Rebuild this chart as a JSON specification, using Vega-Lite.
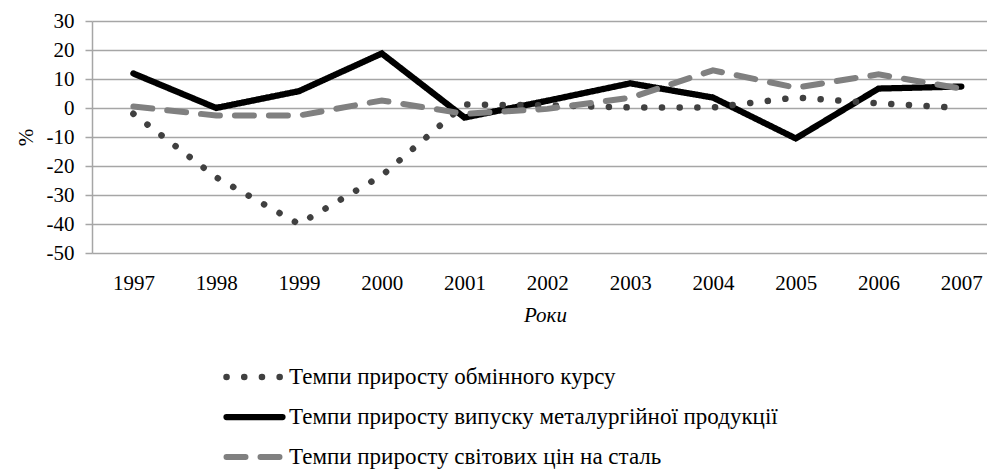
{
  "$schema": "https://vega.github.io/schema/vega-lite/v6.json",
  "width": 895,
  "height": 232,
  "autosize": "none",
  "padding": {"left": 92, "top": 21, "right": 0, "bottom": 217},
  "background": "white",
  "config": {
    "font": "Liberation Serif",
    "view": {"stroke": null},
    "axis": {"labelFont": "Liberation Serif", "titleFont": "Liberation Serif", "labelColor": "#000000", "titleColor": "#000000", "labelFontWeight": "normal", "titleFontWeight": "normal"},
    "legend": {"labelFont": "Liberation Serif"}
  },
  "data": {
    "values": [
      {"year": 1997, "s": "B", "v": 11.9}, {"year": 1998, "s": "B", "v": 0}, {"year": 1999, "s": "B", "v": 5.8}, {"year": 2000, "s": "B", "v": 18.8}, {"year": 2001, "s": "B", "v": -3.3}, {"year": 2002, "s": "B", "v": 2.5}, {"year": 2003, "s": "B", "v": 8.5}, {"year": 2004, "s": "B", "v": 3.6}, {"year": 2005, "s": "B", "v": -10.5}, {"year": 2006, "s": "B", "v": 6.7}, {"year": 2007, "s": "B", "v": 7.4},
      {"year": 1997, "s": "A", "v": -2}, {"year": 1998, "s": "A", "v": -23.9}, {"year": 1999, "s": "A", "v": -40}, {"year": 2000, "s": "A", "v": -23.3}, {"year": 2001, "s": "A", "v": 1.2}, {"year": 2002, "s": "A", "v": 0.9}, {"year": 2003, "s": "A", "v": 0.2}, {"year": 2004, "s": "A", "v": 0.2}, {"year": 2005, "s": "A", "v": 3.6}, {"year": 2006, "s": "A", "v": 1.6}, {"year": 2007, "s": "A", "v": 0},
      {"year": 1997, "s": "C", "v": 0.5}, {"year": 1998, "s": "C", "v": -2.6}, {"year": 1999, "s": "C", "v": -2.6}, {"year": 2000, "s": "C", "v": 2.6}, {"year": 2001, "s": "C", "v": -2}, {"year": 2002, "s": "C", "v": -0.3}, {"year": 2003, "s": "C", "v": 3.5}, {"year": 2004, "s": "C", "v": 13}, {"year": 2005, "s": "C", "v": 7}, {"year": 2006, "s": "C", "v": 11.6}, {"year": 2007, "s": "C", "v": 6.7}
    ]
  },
  "transform": [
    {"lookup": "s", "from": {"data": {"values": [
      {"s": "A", "series": "Темпи приросту обмінного курсу"},
      {"s": "B", "series": "Темпи приросту випуску металургійної продукції"},
      {"s": "C", "series": "Темпи приросту світових цін на сталь"}
    ]}, "key": "s", "fields": ["series"]}}
  ],
  "mark": {"type": "line", "strokeCap": "round", "strokeJoin": "miter", "clip": true},
  "encoding": {
    "x": {
      "field": "year", "type": "quantitative",
      "scale": {"domain": [1996.5, 2007.31], "nice": false, "zero": false},
      "axis": {"values": [1997, 1998, 1999, 2000, 2001, 2002, 2003, 2004, 2005, 2006, 2007], "labelExpr": "'' + datum.value", "grid": false, "ticks": false, "domain": false, "labelFontSize": 21, "labelPadding": 19, "labelFlush": false, "title": "Роки", "titleFontSize": 21, "titleFontStyle": "italic", "titlePadding": 11, "titleX": 453}
    },
    "y": {
      "field": "v", "type": "quantitative",
      "scale": {"domain": [-50, 30], "nice": false},
      "axis": {"values": [-50, -40, -30, -20, -10, 0, 10, 20, 30], "labelExpr": "'' + datum.value", "grid": true, "gridColor": "#a6a6a6", "gridWidth": 1.5, "domainColor": "#a6a6a6", "domainWidth": 1.5, "tickColor": "#a6a6a6", "tickWidth": 1.5, "tickSize": 7, "labelFontSize": 21, "labelPadding": 11, "title": "%", "titleFontSize": 21, "titleAngle": -90, "titlePadding": 10}
    },
    "color": {
      "field": "series", "type": "nominal",
      "scale": {"domain": ["Темпи приросту обмінного курсу", "Темпи приросту випуску металургійної продукції", "Темпи приросту світових цін на сталь"], "range": ["#404040", "#000000", "#808080"]},
      "legend": {
        "title": null, "orient": "none", "legendX": 131, "legendY": 345, "direction": "vertical",
        "symbolType": "stroke", "symbolSize": 3136, "symbolStrokeWidth": 8, "clipHeight": 22,
        "labelFontSize": 23, "labelColor": "#000000", "labelOffset": 3, "rowPadding": 17, "padding": 0, "labelLimit": 800,
        "encode": {"symbols": {"update": {"strokeWidth": {"value": 8}, "strokeCap": {"value": "round"}, "opacity": {"value": 1}}}}
      }
    },
    "strokeDash": {
      "field": "series", "type": "nominal",
      "scale": {"domain": ["Темпи приросту обмінного курсу", "Темпи приросту випуску металургійної продукції", "Темпи приросту світових цін на сталь"], "range": [[0.1, 17.6], [1, 0], [19, 15]]},
      "legend": null
    },
    "strokeWidth": {
      "field": "series", "type": "nominal",
      "scale": {"domain": ["Темпи приросту обмінного курсу", "Темпи приросту випуску металургійної продукції", "Темпи приросту світових цін на сталь"], "range": [6.5, 6, 6]},
      "legend": null
    },
    "order": {"field": "year"}
  }
}
